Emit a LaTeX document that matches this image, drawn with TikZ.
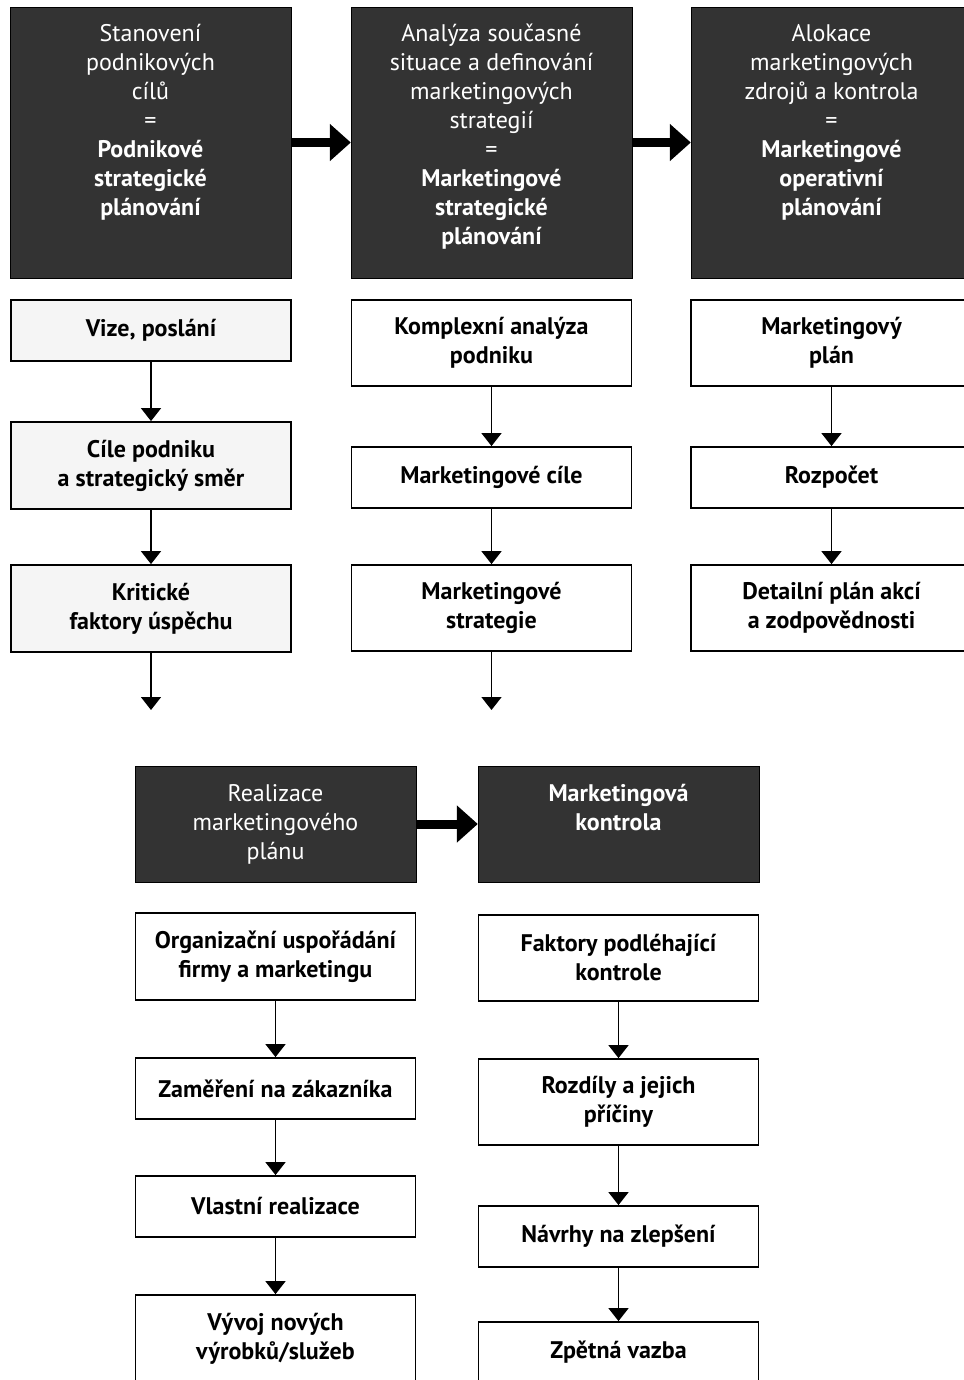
\documentclass[tikz,border=0pt]{standalone}
\usepackage{fontspec}
\setmainfont{PT Sans}
\usepackage{tikz}
\usetikzlibrary{positioning,arrows.meta}

\begin{document}
\begin{tikzpicture}[x=1pt, y=-1pt,
  dark/.style={draw=black, fill=black!80, minimum width=281pt, inner sep=0pt},
  darktxt/.style={text=white, align=center, anchor=north, inner sep=0pt, font=\fontsize{24}{29}\selectfont},
  stepbox/.style={draw, line width=1.8pt, minimum width=280pt, align=center, inner sep=0pt, font=\fontsize{24}{29}\selectfont\bfseries},
  greybox/.style={stepbox, fill=black!4},
  flow/.style={-{Triangle[width=20pt,length=13pt]}, line width=1.5pt},
  bigflow/.style={-{Triangle[width=36pt,length=21pt]}, line width=9pt}]
\path[use as bounding box, fill=white] (0,0) rectangle (963,1380);
% ================= top row: planning levels =================
\node[dark, minimum height=271pt] (s1) at (150.5,142.5) {};
\node[dark, minimum height=271pt] (s2) at (491.5,142.5) {};
\node[dark, minimum height=271pt] (s3) at (831.5,142.5) {};
\node[darktxt] (s1t) at (150.5,24) {Stanovení\\podnikových\\cílů\\=\\\textbf{Podnikové}\\\textbf{strategické}\\\textbf{plánování}};
\node[darktxt] (s2t) at (491.5,24) {Analýza současné\\situace a definování\\marketingových\\strategií\\=\\\textbf{Marketingové}\\\textbf{strategické}\\\textbf{plánování}};
\node[darktxt] (s3t) at (831.5,24) {Alokace\\marketingových\\zdrojů a kontrola\\=\\\textbf{Marketingové}\\\textbf{operativní}\\\textbf{plánování}};
\draw[bigflow] (s1) -- (s2);
\draw[bigflow] (s2) -- (s3);
% column 1
\node[greybox, minimum height=61pt] (a1) at (151,330.5) {Vize, poslání};
\node[greybox, minimum height=87pt] (a2) at (151,465.5) {Cíle podniku\\a strategický směr};
\node[greybox, minimum height=87pt] (a3) at (151,608.5) {Kritické\\faktory úspěchu};
\coordinate (a4) at (151,710);
% column 2
\node[stepbox, minimum height=86pt] (b1) at (491.5,343) {Komplexní analýza\\podniku};
\node[stepbox, minimum height=61pt] (b2) at (491.5,477.5) {Marketingové cíle};
\node[stepbox, minimum height=86pt] (b3) at (491.5,608) {Marketingové\\strategie};
\coordinate (b4) at (491.5,710);
% column 3
\node[stepbox, minimum width=281pt, minimum height=86pt] (c1) at (831.5,343) {Marketingový\\plán};
\node[stepbox, minimum width=281pt, minimum height=61pt] (c2) at (831.5,477.5) {Rozpočet};
\node[stepbox, minimum width=281pt, minimum height=86pt] (c3) at (831.5,608) {Detailní plán akcí\\a zodpovědnosti};
\foreach \col in {a,b,c}{
  \draw[flow] (\col1) -- (\col2);
  \draw[flow] (\col2) -- (\col3);
}
\draw[flow] (a3) -- (a4);
\draw[flow] (b3) -- (b4);
% ================= bottom row: realisation and control =================
\node[dark, minimum height=116pt] (r1) at (275.5,824) {};
\node[dark, minimum height=116pt] (r2) at (618.5,824) {};
\node[darktxt] (r1t) at (275.5,784) {Realizace\\marketingového\\plánu};
\node[darktxt] (r2t) at (618.5,784) {\textbf{Marketingová}\\\textbf{kontrola}};
\draw[bigflow] (r1) -- (r2);
% realisation steps
\node[stepbox, minimum height=87pt] (d1) at (275.5,956.5) {Organizační uspořádání\\firmy a marketingu};
\node[stepbox, minimum height=61pt] (d2) at (275.5,1088.5) {Zaměření na zákazníka};
\node[stepbox, minimum height=61pt] (d3) at (275.5,1206.5) {Vlastní realizace};
\node[stepbox, minimum height=87pt] (d4) at (275.5,1338.5) {Vývoj nových\\výrobků/služeb};
% control steps
\node[stepbox, minimum height=86pt] (e1) at (618.5,958) {Faktory podléhající\\kontrole};
\node[stepbox, minimum height=86pt] (e2) at (618.5,1102) {Rozdíly a jejich\\příčiny};
\node[stepbox, minimum height=61pt] (e3) at (618.5,1236.5) {Návrhy na zlepšení};
\node[stepbox, minimum height=61pt] (e4) at (618.5,1352.5) {Zpětná vazba};
\foreach \col in {d,e}{
  \draw[flow] (\col1) -- (\col2);
  \draw[flow] (\col2) -- (\col3);
  \draw[flow] (\col3) -- (\col4);
}
\end{tikzpicture}
\end{document}
